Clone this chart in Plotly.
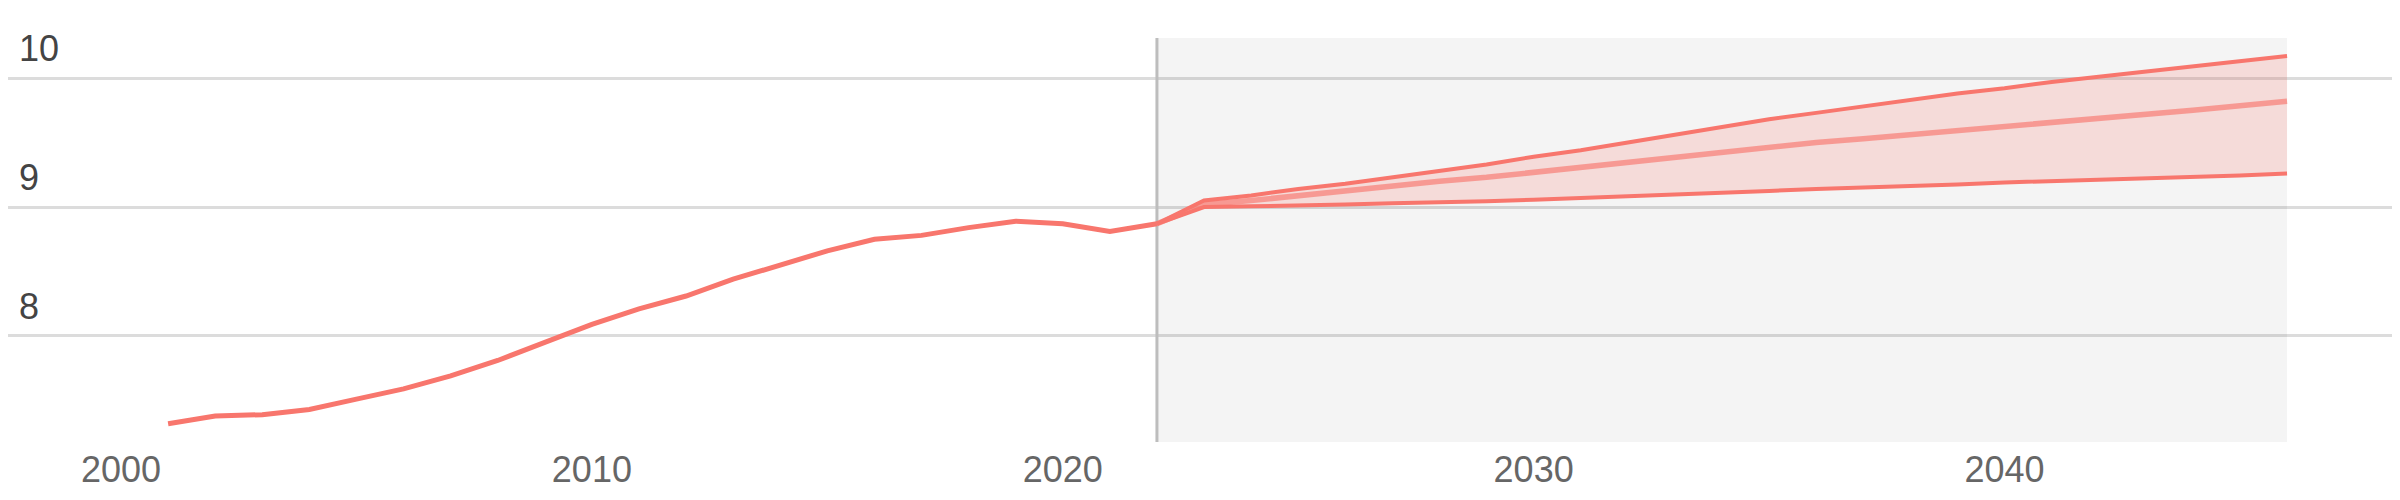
import plotly.graph_objects as go

# ---- data ----
hist_years = list(range(2001, 2023))
hist_values = [7.32, 7.38, 7.39, 7.43, 7.51, 7.59, 7.69, 7.81, 7.95, 8.09,
               8.21, 8.31, 8.44, 8.55, 8.66, 8.75, 8.78, 8.84, 8.89, 8.87,
               8.81, 8.87]

proj_years = list(range(2022, 2047))
proj_upper = [8.87, 9.05, 9.09, 9.14, 9.18, 9.23, 9.28, 9.33, 9.39, 9.44,
              9.50, 9.56, 9.62, 9.68, 9.73, 9.78, 9.83, 9.88, 9.92, 9.97,
              10.01, 10.05, 10.09, 10.13, 10.17]
proj_mid = [8.87, 9.02, 9.05, 9.09, 9.12, 9.16, 9.20, 9.23, 9.27, 9.31,
            9.35, 9.39, 9.43, 9.47, 9.50, 9.53, 9.56, 9.59, 9.62, 9.655,
            9.69, 9.72, 9.75, 9.785, 9.82]
proj_lower = [8.87, 9.00, 9.005, 9.01, 9.02, 9.03, 9.035, 9.045, 9.057, 9.07,
              9.08, 9.095, 9.11, 9.125, 9.14, 9.15, 9.16, 9.175, 9.19, 9.20,
              9.21, 9.225, 9.235, 9.245, 9.26]

x_ticks = [2000, 2010, 2020, 2030, 2040]
y_ticks = [8, 9, 10]
forecast_start = 2022
forecast_end = 2046
y_low, y_high = 7.178, 10.31

RED = "#F8766D"

fig = go.Figure()

# band fill
fig.add_trace(go.Scatter(x=proj_years, y=proj_lower, mode="lines",
                         line=dict(width=0, color=RED), hoverinfo="skip",
                         showlegend=False))
fig.add_trace(go.Scatter(x=proj_years, y=proj_upper, mode="lines",
                         line=dict(width=0, color=RED), fill="tonexty",
                         fillcolor="rgba(248,118,109,0.2)", hoverinfo="skip",
                         showlegend=False))
# projection lines
fig.add_trace(go.Scatter(x=proj_years, y=proj_lower, mode="lines",
                         line=dict(width=4, color=RED), showlegend=False))
fig.add_trace(go.Scatter(x=proj_years, y=proj_upper, mode="lines",
                         line=dict(width=4, color=RED), showlegend=False))
fig.add_trace(go.Scatter(x=proj_years, y=proj_mid, mode="lines",
                         line=dict(width=5.5, color="rgba(248,118,109,0.65)"),
                         showlegend=False))
# historical
fig.add_trace(go.Scatter(x=hist_years, y=hist_values, mode="lines",
                         line=dict(width=5, color=RED), showlegend=False))

# forecast shading and divider
fig.add_shape(type="rect", xref="x", yref="y", x0=forecast_start,
              x1=forecast_end, y0=y_low, y1=y_high,
              fillcolor="rgba(0,0,0,0.045)",
              line=dict(width=0), layer="between")
fig.add_shape(type="line", xref="x", yref="y", x0=forecast_start,
              x1=forecast_start, y0=y_low, y1=y_high,
              line=dict(color="#bdbdbd", width=3), layer="between")

fig.update_layout(
    width=2400, height=500,
    margin=dict(l=0, r=15, t=0, b=66),
    paper_bgcolor="white", plot_bgcolor="white",
    font=dict(family="Arial, Liberation Sans, sans-serif", size=36,
              color="#666666"),
    xaxis=dict(range=[1997.6, 2048.25], tickvals=x_ticks,
               ticktext=[str(v) for v in x_ticks], showgrid=False,
               zeroline=False, showline=False, ticks="",
               ticklabelstandoff=3),
    yaxis=dict(range=[y_low, 10.543], tickvals=y_ticks,
               ticktext=[str(v) for v in y_ticks], showgrid=True,
               gridcolor="#dcdcdc", gridwidth=3, zeroline=False,
               showline=False, ticks="", ticklabelposition="inside top",
               ticklabelstandoff=8, ticklabelshift=-4),
    showlegend=False,
)

fig.write_html("out.html")
